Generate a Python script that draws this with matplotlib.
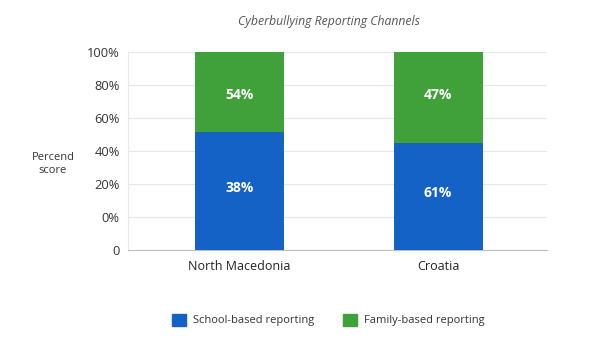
import numpy as np
import matplotlib
matplotlib.use("Agg")
import matplotlib.pyplot as plt
from matplotlib.patches import Patch

plt.rcParams['font.family'] = ['Open Sans', 'DejaVu Sans']

# data
countries = ["North Macedonia", "Croatia"]
series = ["School-based reporting", "Family-based reporting"]
# bar segment heights as drawn (axis units: one tick step = 20)
school_height = [71.3, 65.0]
family_height = [48.7, 55.0]
# printed labels on the segments
school_labels = ["38%", "61%"]
family_labels = ["54%", "47%"]
tick_values = [0, 20, 40, 60, 80, 100, 120]
tick_labels = ["0", "0%", "20%", "40%", "60%", "80%", "100%"]

blue = "#1562c6"
green = "#40a03a"

fig = plt.figure(figsize=(6.10, 3.59), dpi=100)
fig.patch.set_facecolor("white")
ax = fig.add_axes([0.2098, 0.3036, 0.687, 0.5515])

x = np.arange(len(countries))
w = 0.448
ax.bar(x, school_height, w, color=blue, zorder=3)
ax.bar(x, family_height, w, bottom=school_height, color=green, zorder=3)

for i in range(len(countries)):
    ax.text(x[i], school_height[i] / 2 + 2, school_labels[i], ha="center", va="center",
            color="white", fontsize=10, fontweight="bold", zorder=4)
    ax.text(x[i], 94, family_labels[i], ha="center",
            va="center", color="white", fontsize=10, fontweight="bold", zorder=4)

ax.set_xlim(-0.562, 1.549)
ax.set_ylim(0, 120)
ax.set_yticks(tick_values)
ax.set_yticklabels(tick_labels, fontsize=9.3, color="#333333")
ax.set_xticks(x)
ax.set_xticklabels(countries, fontsize=9, color="#222222")
ax.tick_params(axis="both", length=0)
ax.tick_params(axis="y", pad=6)
ax.tick_params(axis="x", pad=7)
ax.grid(axis="y", color="#e6e6e6", linewidth=0.8, zorder=0)
for s in ["top", "right"]:
    ax.spines[s].set_visible(False)
ax.spines["left"].set_color("#e8e8e8")
ax.spines["bottom"].set_color("#bdbdbd")

fig.text(329 / 610, 1 - 22 / 359, "Cyberbullying Reporting Channels", ha="center", va="center",
         fontsize=8.8, style="italic", color="#555555")
fig.text(53 / 610, 1 - 164 / 359, "Percend\nscore", ha="center", va="center",
         fontsize=8, color="#333333", linespacing=1.35)

handles = [Patch(color=blue), Patch(color=green)]
fig.legend(handles, series, loc="center", bbox_to_anchor=(328 / 610, 1 - 320 / 359), ncol=2,
           frameon=False, fontsize=8, handlelength=1.3, handleheight=1.3, columnspacing=2.6,
           handletextpad=0.6, labelcolor="#333333")

fig.savefig("out.png", dpi=100)
